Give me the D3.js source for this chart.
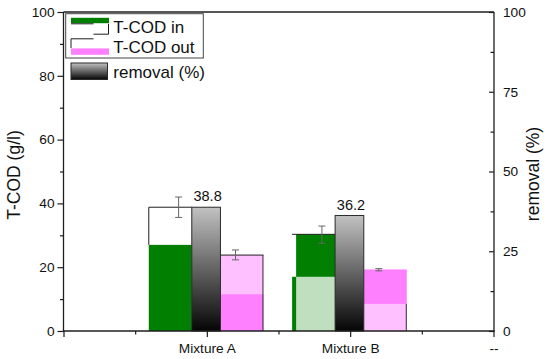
<!DOCTYPE html>
<html><head><meta charset="utf-8">
<script src="https://cdn.jsdelivr.net/npm/d3@7"></script>
<style>
body{margin:0;background:#fff}
svg{display:block}
text{font-family:"Liberation Sans",Arial,sans-serif;fill:#111}
</style>
</head><body><svg id="c" width="550" height="359"></svg>
<script>
// ---- data ----
const categories = ["", "Mixture A", "Mixture B", "--"];
const groupIndex = [1, 2];
const codInTotal = [38.8, 30.3];
const codInMean = [38.8, 30.2];
const codInErr = [3.2, 2.7];
const codInGreen = [27.0, 30.3];
const codInLight = [0, 17.0];
const codOutBox = [23.8, 8.5];
const codOutStrong = [11.5, 19.3];
const codOutMean = [23.85, 19.2];
const codOutErr = [1.55, 0.35];
const removal = [38.8, 36.2];
const removalLabels = ["38.8", "36.2"];
const leftTicks = [0, 20, 40, 60, 80, 100];
const leftMinor = [10, 30, 50, 70, 90];
const rightTicks = [0, 25, 50, 75, 100];
const rightMinor = [12.5, 37.5, 62.5, 87.5];
const xMajor = [0, 1, 2, 3];
const xMinor = [0.5, 1.5, 2.5];
const legendItems = ["T-COD in", "T-COD out", "removal (%)"];

// ---- layout ----
const svg = d3.select("#c");
const L = 63.5, R = 494, T = 12, B = 331;
const x = d3.scaleLinear().domain([0, 3]).range([L, 493.5]);
const yL = d3.scaleLinear().domain([0, 100]).range([B, T]);
const yR = d3.scaleLinear().domain([0, 100]).range([B, T]);

const C = {green:"#007f00", lightGreen:"#bfdfbf", pink:"#ff80ff", lightPink:"#ffc0ff", line:"#1e1e1e", err:"#666"};

const defs = svg.append("defs");
const grad = defs.append("linearGradient").attr("id","gray").attr("x1",0).attr("y1",0).attr("x2",0).attr("y2",1);
grad.append("stop").attr("offset","0%").attr("stop-color","#c2c2c2");
grad.append("stop").attr("offset","100%").attr("stop-color","#050505");

const gBars = svg.append("g");

function line(g, x1, y1, x2, y2, col, w){
  g.append("line").attr("x1",x1).attr("y1",y1).attr("x2",x2).attr("y2",y2)
   .attr("stroke",col||C.line).attr("stroke-width",w||1);
}
function rect(g, x0, x1, v0, v1, fill){
  g.append("rect").attr("x",x0).attr("width",x1-x0)
   .attr("y",yL(v1)).attr("height",yL(v0)-yL(v1)).attr("fill",fill);
}

groupIndex.forEach((gi, i) => {
  // T-COD in slot
  const a0 = x(gi - 0.405), a1 = x(gi - 0.105);
  const inset = codInLight[i] > 0 ? 4 : 0;
  rect(gBars, a0, a1, 0, codInTotal[i], "#fff");
  rect(gBars, a0 + inset, a1, 0, codInGreen[i], C.green);
  if (codInLight[i] > 0) {
    rect(gBars, a0, a1, 0, codInLight[i], C.green);
    rect(gBars, a0 + inset, a1, 0, codInLight[i], C.lightGreen);
  }
  const tIn = yL(codInTotal[i]);
  line(gBars, a0, tIn, a1, tIn);
  line(gBars, a0, tIn, a0, yL(Math.max(codInLight[i], codInGreen[i] >= codInTotal[i] ? codInTotal[i] : codInGreen[i])));

  // T-COD out slot
  const b0 = x(gi + 0.095), b1 = x(gi + 0.395);
  if (codOutBox[i] >= codOutStrong[i]) {
    rect(gBars, b0, b1, 0, codOutBox[i], C.lightPink);
    rect(gBars, b0, b1, 0, codOutStrong[i], C.pink);
    line(gBars, b0, yL(codOutBox[i]), b1, yL(codOutBox[i]));
  } else {
    rect(gBars, b0, b1, 0, codOutStrong[i], C.pink);
    rect(gBars, b0, b1, 0, codOutBox[i], C.lightPink);
  }
  line(gBars, b1 - 0.5, yL(codOutBox[i]), b1 - 0.5, B, "#333");

  // removal (gray gradient) bar
  const c0 = x(gi - 0.105), c1 = x(gi + 0.095);
  gBars.append("rect").attr("x", c0).attr("width", c1 - c0)
    .attr("y", yR(removal[i])).attr("height", B - yR(removal[i]))
    .attr("fill", "url(#gray)").attr("stroke", "#2a2a2a").attr("stroke-width", 1);
  gBars.append("text").attr("x", (c0 + c1) / 2 + 1.5).attr("y", yR(removal[i]) - 6)
    .attr("text-anchor", "middle").attr("font-size", "14.5px").text(removalLabels[i]);

  // error bars
  const ex1 = x(gi - 0.197), ex2 = x(gi + 0.2);
  [[ex1, codInMean[i], codInErr[i]], [ex2, codOutMean[i], codOutErr[i]]].forEach(([ex, m, e]) => {
    line(gBars, ex, yL(m - e), ex, yL(m + e), C.err);
    line(gBars, ex - 3.5, yL(m + e), ex + 3.5, yL(m + e), C.err);
    line(gBars, ex - 3.5, yL(m - e), ex + 3.5, yL(m - e), C.err);
  });
});

// ---- axes ----
const fs = "13.7px";
function styleAxis(g){
  g.select(".domain").remove();
  g.selectAll("line").attr("stroke", C.line).attr("stroke-width", 1.2);
  g.selectAll("text").attr("font-size", fs).attr("fill", "#111").attr("font-family", '"Liberation Sans",Arial,sans-serif');
}
const ax1 = svg.append("g").attr("transform", `translate(${L},0)`)
  .call(d3.axisLeft(yL).tickValues(leftTicks).tickSize(6).tickPadding(3).tickFormat(d3.format("d")));
styleAxis(ax1);
const ax1m = svg.append("g").attr("transform", `translate(${L},0)`)
  .call(d3.axisLeft(yL).tickValues(leftMinor).tickSize(3.5).tickFormat(""));
styleAxis(ax1m);

const ax2 = svg.append("g").attr("transform", `translate(${R},0)`)
  .call(d3.axisRight(yR).tickValues(rightTicks).tickSize(-5).tickPadding(9).tickFormat(d3.format("d")));
styleAxis(ax2);
const ax2m = svg.append("g").attr("transform", `translate(${R},0)`)
  .call(d3.axisRight(yR).tickValues(rightMinor).tickSize(-3.5).tickFormat(""));
styleAxis(ax2m);

const ax3 = svg.append("g").attr("transform", `translate(0,${B})`)
  .call(d3.axisBottom(x).tickValues(xMajor).tickSize(6).tickPadding(6.6).tickFormat(i => categories[i]));
styleAxis(ax3);
const ax3m = svg.append("g").attr("transform", `translate(0,${B})`)
  .call(d3.axisBottom(x).tickValues(xMinor).tickSize(3.5).tickFormat(""));
styleAxis(ax3m);

// frame
const fr = svg.append("g");
line(fr, L, T, R, T, C.line, 1.3);
line(fr, L, T, L, B + 0.6, C.line, 1.3);
line(fr, R, T, R, B + 0.6, C.line, 1.3);
line(fr, L - 0.6, B, R + 0.6, B, C.line, 1.3);

// axis titles
svg.append("text").attr("transform", "translate(14,175) rotate(-90)")
  .attr("text-anchor", "middle").attr("dy", "0.35em").attr("font-size", "17.5px").text("T-COD (g/l)");
svg.append("text").attr("transform", "translate(533,174) rotate(-90)")
  .attr("text-anchor", "middle").attr("dy", "0.35em").attr("font-size", "17.5px").text("removal (%)");

// ---- legend ----
const lg = svg.append("g");
lg.append("rect").attr("x", 65.7).attr("y", 13.7).attr("width", 137.6).attr("height", 44.3)
  .attr("fill", "#fff").attr("stroke", "#444").attr("stroke-width", 1);
// T-COD in symbol
lg.append("rect").attr("x", 71).attr("y", 17.8).attr("width", 38).attr("height", 5.4).attr("fill", C.green);
lg.append("path").attr("d", "M71,23.8H93.5M108.5,23.8V34.2M93.5,34.2H108.5")
  .attr("fill", "none").attr("stroke", C.line).attr("stroke-width", 1);
// T-COD out symbol
lg.append("path").attr("d", "M71,38.8H93.5M71,38.8V48")
  .attr("fill", "none").attr("stroke", C.line).attr("stroke-width", 1);
lg.append("rect").attr("x", 71).attr("y", 48.4).attr("width", 38).attr("height", 6.4).attr("fill", C.pink);
// removal symbol
lg.append("rect").attr("x", 71).attr("y", 63).attr("width", 36.5).attr("height", 16.5)
  .attr("fill", "url(#gray)").attr("stroke", "#2a2a2a").attr("stroke-width", 1);
const ly = [26.7, 46.7, 71.7];
legendItems.forEach((t, k) => {
  lg.append("text").attr("x", 113.3).attr("y", ly[k]).attr("dy", "0.35em")
    .attr("font-size", "17px").text(t);
});
</script>
</body></html>
